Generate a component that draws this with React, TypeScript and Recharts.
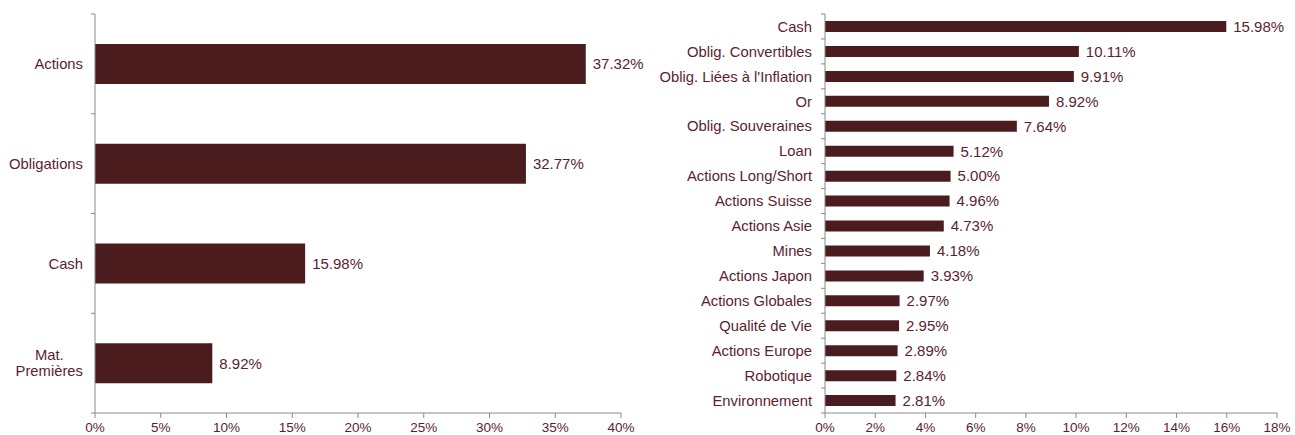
import React, { useLayoutEffect, useRef, useState } from "react";
import { BarChart, Bar, XAxis, YAxis, LabelList } from "recharts";

const leftCategories = ["Actions", "Obligations", "Cash", "Mat.\nPremières"];
const leftValues = [37.32, 32.77, 15.98, 8.92];
const leftTicks = [0, 5, 10, 15, 20, 25, 30, 35, 40];

const rightCategories = [
  "Cash",
  "Oblig. Convertibles",
  "Oblig. Liées à l'Inflation",
  "Or",
  "Oblig. Souveraines",
  "Loan",
  "Actions Long/Short",
  "Actions Suisse",
  "Actions Asie",
  "Mines",
  "Actions Japon",
  "Actions Globales",
  "Qualité de Vie",
  "Actions Europe",
  "Robotique",
  "Environnement",
];
const rightValues = [15.98, 10.11, 9.91, 8.92, 7.64, 5.12, 5.0, 4.96, 4.73, 4.18, 3.93, 2.97, 2.95, 2.89, 2.84, 2.81];
const rightTicks = [0, 2, 4, 6, 8, 10, 12, 14, 16, 18];

const leftData = leftCategories.map((name, i) => ({ name, value: leftValues[i] }));
const rightData = rightCategories.map((name, i) => ({ name, value: rightValues[i] }));

const FONT = "'Liberation Sans', Arial, Helvetica, sans-serif";
const TEXT = "#5b1e32";
const BAR = "#4b1c1e";
const AXIS = "#8a8a8a";
const CAT_FS = 14.8;
const VAL_FS = 15;
const TICK_FS = 13.5;
const MARK = 4;

function CatTick(props: any) {
  const { x, y, payload, gap, index, visibleTicksCount } = props;
  const lines: string[] = String(payload.value).split("\n");
  const ref = useRef<SVGTextElement>(null);
  const [w, setW] = useState(0);
  useLayoutEffect(() => {
    if (ref.current && lines.length > 1) {
      setW(ref.current.getComputedTextLength());
    }
  }, [payload.value]);
  const half = payload.offset || 0;
  const ax = x + gap;
  const marks = (
    <g>
      <line x1={ax - MARK} x2={ax} y1={y - half} y2={y - half} stroke={AXIS} strokeWidth={1} />
      {index === visibleTicksCount - 1 ? (
        <line x1={ax - MARK} x2={ax} y1={y + half} y2={y + half} stroke={AXIS} strokeWidth={1} />
      ) : null}
    </g>
  );
  if (lines.length === 1) {
    return (
      <g>
        {marks}
        <text x={x} y={y} dy="0.355em" textAnchor="end" fill={TEXT} fontSize={CAT_FS} fontFamily={FONT}>
          {lines[0]}
        </text>
      </g>
    );
  }
  const lh = 16;
  const n = lines.length;
  const longestIdx = lines.reduce((bi, l, i) => (l.length > lines[bi].length ? i : bi), 0);
  return (
    <g>
      {marks}
      {lines.map((l, i) => {
        const yy = y + (i - (n - 1) / 2) * lh;
        if (i === longestIdx) {
          return (
            <text key={i} ref={ref} x={x} y={yy} dy="0.355em" textAnchor="end" fill={TEXT} fontSize={CAT_FS} fontFamily={FONT}>
              {l}
            </text>
          );
        }
        return (
          <text key={i} x={x - w / 2} y={yy} dy="0.355em" textAnchor="middle" fill={TEXT} fontSize={CAT_FS} fontFamily={FONT}>
            {l}
          </text>
        );
      })}
    </g>
  );
}

const pct = (v: any) => `${v}%`;
const pct2 = (v: any) => `${Number(v).toFixed(2)}%`;

export default function App() {
  return (
    <div style={{ position: "absolute", left: 0, top: 0, width: 1295, height: 435, background: "#fff" }}>
      <div style={{ position: "absolute", left: 0, top: 0 }}>
        <BarChart
          layout="vertical"
          width={650}
          height={435}
          data={leftData}
          margin={{ top: 14, right: 29, bottom: 0, left: 0 }}
          barCategoryGap={0}
        >
          <XAxis
            type="number"
            domain={[0, 40]}
            ticks={leftTicks}
            tickFormatter={pct}
            height={22}
            axisLine={{ stroke: AXIS }}
            tickLine={{ stroke: AXIS }}
            tickSize={5}
            tickMargin={4}
            tick={{ fill: TEXT, fontSize: TICK_FS, fontFamily: FONT }}
            interval={0}
          />
          <YAxis
            type="category"
            dataKey="name"
            width={95}
            axisLine={{ stroke: AXIS }}
            tickLine={false}
            tickSize={6}
            tickMargin={6}
            interval={0}
            tick={<CatTick gap={12} />}
          />
          <Bar dataKey="value" fill={BAR} barSize={40} isAnimationActive={false}>
            <LabelList dataKey="value" position="right" offset={7} formatter={pct2} fill={TEXT} fontSize={VAL_FS} fontFamily={FONT} />
          </Bar>
        </BarChart>
      </div>
      <div style={{ position: "absolute", left: 650, top: 0 }}>
        <BarChart
          layout="vertical"
          width={645}
          height={435}
          data={rightData}
          margin={{ top: 14, right: 18, bottom: 0, left: 0 }}
          barCategoryGap={0}
        >
          <XAxis
            type="number"
            domain={[0, 18]}
            ticks={rightTicks}
            tickFormatter={pct}
            height={22}
            axisLine={{ stroke: AXIS }}
            tickLine={{ stroke: AXIS }}
            tickSize={5}
            tickMargin={4}
            tick={{ fill: TEXT, fontSize: TICK_FS, fontFamily: FONT }}
            interval={0}
          />
          <YAxis
            type="category"
            dataKey="name"
            width={175}
            axisLine={{ stroke: AXIS }}
            tickLine={false}
            tickSize={6}
            tickMargin={7}
            interval={0}
            tick={<CatTick gap={13} />}
          />
          <Bar dataKey="value" fill={BAR} barSize={11} isAnimationActive={false}>
            <LabelList dataKey="value" position="right" offset={7} formatter={pct2} fill={TEXT} fontSize={VAL_FS} fontFamily={FONT} />
          </Bar>
        </BarChart>
      </div>
    </div>
  );
}
